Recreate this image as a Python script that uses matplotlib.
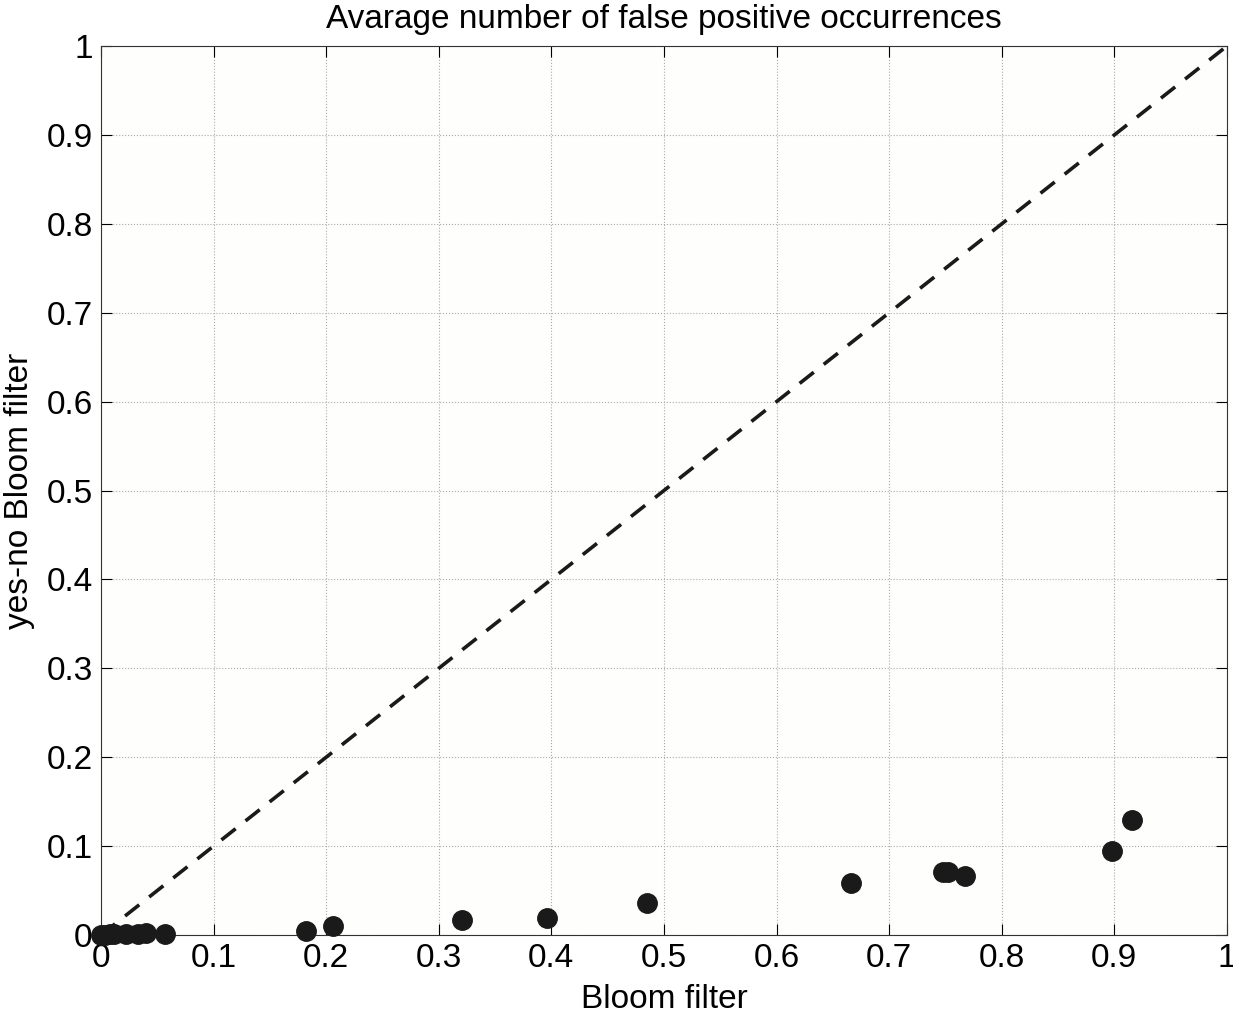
import matplotlib
matplotlib.use("Agg")
import matplotlib.pyplot as plt

# average false positive occurrences: Bloom filter vs yes-no Bloom filter
bloom = [0.0, 0.004, 0.008, 0.012, 0.022, 0.033, 0.04, 0.057,
         0.182, 0.206, 0.321, 0.396, 0.485, 0.666, 0.748, 0.752, 0.767, 0.898, 0.916]
yes_no = [0.0, 0.0, 0.001, 0.001, 0.001, 0.001, 0.002, 0.001,
          0.005, 0.010, 0.017, 0.019, 0.036, 0.059, 0.071, 0.071, 0.066, 0.094, 0.129]
ticks = [0, 0.1, 0.2, 0.3, 0.4, 0.5, 0.6, 0.7, 0.8, 0.9, 1]
tick_labels = ["0", "0.1", "0.2", "0.3", "0.4", "0.5", "0.6", "0.7", "0.8", "0.9", "1"]

plt.rcParams["font.family"] = ["Liberation Sans", "DejaVu Sans"]

fig = plt.figure(figsize=(12.33, 10.14), dpi=100)
ax = fig.add_axes([0.0819, 0.0779, 0.9132, 0.8767])
ax.set_facecolor("#fefefd")

ax.plot([0, 1], [0, 1], "--", color="#1a1a1a", lw=2.6, dashes=(5, 3.5), zorder=2)
ax.plot(bloom, yes_no, "o", color="#1a1a1a", ms=14, zorder=3, clip_on=False)

ax.set_xlim(0, 1)
ax.set_ylim(0, 1)
ax.set_xticks(ticks)
ax.set_yticks(ticks)
ax.set_xticklabels(tick_labels)
ax.set_yticklabels(tick_labels)
ax.tick_params(direction="in", length=8, width=0.8, labelsize=24, pad=6)
ax.tick_params(top=True, right=True)
ax.grid(True, linestyle=":", color="#aaaaaa", lw=0.8)
for s in ax.spines.values():
    s.set_linewidth(0.8)
    s.set_color("#333333")

ax.set_xlabel("Bloom filter", fontsize=24, labelpad=7)
ax.set_ylabel("yes-no Bloom filter", fontsize=24, labelpad=8)
ax.set_title("Avarage number of false positive occurrences", fontsize=24, pad=13)

fig.savefig("out.png", dpi=100)
